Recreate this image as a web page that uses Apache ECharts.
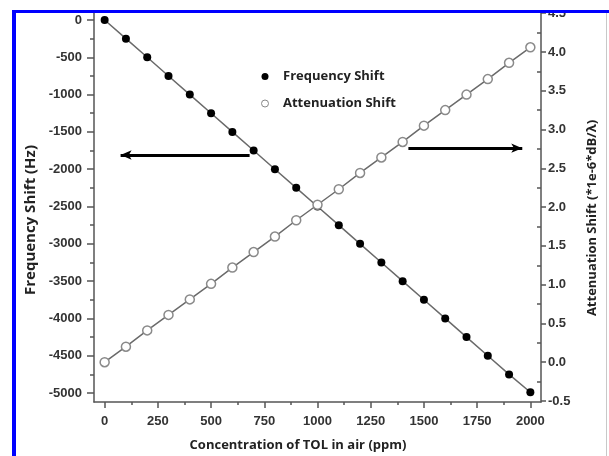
<!DOCTYPE html>
<html>
<head>
<meta charset="utf-8">
<title>TOL sensor response</title>
<script src="https://cdn.jsdelivr.net/npm/echarts@6/dist/echarts.min.js"></script>
<style>
  html, body { margin: 0; padding: 0; background: #fff; }
  #chart { width: 609px; height: 456px; }
</style>
</head>
<body>
<div id="chart"></div>
<script>
// concentration of TOL (ppm)
const concentration = [0, 100, 200, 300, 400, 500, 600, 700, 800, 900, 1000,
  1100, 1200, 1300, 1400, 1500, 1600, 1700, 1800, 1900, 2000]
// frequency shift (Hz), left axis
const frequencyShift = [0, -250, -500, -750, -1000, -1250, -1500, -1750, -2000, -2250, -2500,
  -2750, -3000, -3250, -3500, -3750, -4000, -4250, -4500, -4750, -4990]
// attenuation shift (*1e-6*dB/λ), right axis
const attenuationShift = [0, 0.2, 0.41, 0.61, 0.81, 1.01, 1.22, 1.42, 1.62, 1.83, 2.03,
  2.23, 2.44, 2.64, 2.84, 3.05, 3.25, 3.45, 3.65, 3.86, 4.06]

// tick labels
const xTicks = [0, 250, 500, 750, 1000, 1250, 1500, 1750, 2000]
const xMinorTicks = [125, 375, 625, 875, 1125, 1375, 1625, 1875]
const freqTicks = [0, -500, -1000, -1500, -2000, -2500, -3000, -3500, -4000, -4500, -5000]
const freqMinorTicks = [-250, -750, -1250, -1750, -2250, -2750, -3250, -3750, -4250, -4750]
const attTicks = [-0.5, 0, 0.5, 1, 1.5, 2, 2.5, 3, 3.5, 4, 4.5]
const attMinorTicks = [-0.25, 0.25, 0.75, 1.25, 1.75, 2.25, 2.75, 3.25, 3.75, 4.25]

// arrows pointing at their axes: [conc from, conc to, value]
const freqArrow = [681, 75, -1810]
const attArrow = [1427, 1962, 2.76]

const labelFont = 'Liberation Sans'
const nameFont = 'Open Sans'
const axisColor = '#555'

const chartDom = document.getElementById('chart')
const myChart = echarts.init(chartDom)

const tickLabel = {
  fontFamily: labelFont,
  fontWeight: 'bold',
  fontSize: 13,
  color: '#333'
}
const tickLine = { color: axisColor, width: 1.5 }

const option = {
  animation: false,
  backgroundColor: '#fff',
  grid: {
    left: 94,
    right: 68,
    top: 12,
    bottom: 54,
    outerBoundsMode: 'none'
  },
  legend: {
    orient: 'vertical',
    left: 256,
    top: 65,
    itemWidth: 26,
    itemHeight: 7,
    itemGap: 14,
    selectedMode: false,
    textStyle: {
      fontFamily: nameFont,
      fontWeight: 'bold',
      fontSize: 13,
      color: '#222'
    },
    data: [
      { name: 'Frequency Shift', icon: 'circle', itemStyle: { color: '#000' } },
      { name: 'Attenuation Shift', icon: 'circle', itemStyle: { color: '#fff', borderColor: '#888', borderWidth: 1 } }
    ]
  },
  xAxis: [
    {
      type: 'value',
      min: -50,
      max: 2050,
      name: 'Concentration of TOL in air (ppm)',
      nameLocation: 'middle',
      nameGap: 37,
      nameTextStyle: { fontFamily: nameFont, fontWeight: 'bold', fontSize: 13, color: '#222', padding: [0, 39, 0, 0] },
      splitLine: { show: false },
      axisLine: { onZero: false, lineStyle: { color: axisColor, width: 1.5 } },
      axisTick: { customValues: xTicks, length: 6, lineStyle: tickLine },
      axisLabel: { customValues: xTicks, margin: 13, ...tickLabel, formatter: (v) => String(v) }
    },
    {
      // minor ticks only
      type: 'value',
      position: 'bottom',
      min: -50,
      max: 2050,
      splitLine: { show: false },
      axisLine: { show: false, onZero: false },
      axisTick: { customValues: xMinorTicks, length: 3, lineStyle: tickLine },
      axisLabel: { show: false }
    }
  ],
  yAxis: [
    {
      type: 'value',
      position: 'left',
      min: -5120,
      max: 107,
      name: 'Frequency Shift (Hz)',
      nameLocation: 'middle',
      nameGap: 48,
      nameTextStyle: { fontFamily: nameFont, fontWeight: 'bold', fontSize: 15, color: '#222', padding: [0, 26, 0, 0] },
      splitLine: { show: false },
      axisLine: { show: true, onZero: false, lineStyle: { color: axisColor, width: 1.5 } },
      axisTick: { customValues: freqTicks, length: 7, lineStyle: tickLine },
      axisLabel: { customValues: freqTicks, margin: 12, ...tickLabel, formatter: (v) => String(v) }
    },
    {
      type: 'value',
      position: 'right',
      min: -0.513,
      max: 4.515,
      name: 'Attenuation Shift (*1e-6*dB/λ)',
      nameLocation: 'middle',
      nameGap: 45,
      nameTextStyle: { fontFamily: nameFont, fontWeight: 'bold', fontSize: 13, color: '#222', padding: [0, 22, 0, 0] },
      splitLine: { show: false },
      axisLine: { show: true, onZero: false, lineStyle: { color: axisColor, width: 1.5 } },
      axisTick: { customValues: attTicks, length: 5, lineStyle: tickLine },
      axisLabel: {
        customValues: attTicks,
        margin: 7,
        ...tickLabel,
        formatter: (v) => v.toFixed(1)
      }
    },
    {
      // left minor ticks
      type: 'value',
      position: 'left',
      min: -5120,
      max: 107,
      splitLine: { show: false },
      axisLine: { show: false, onZero: false },
      axisTick: { customValues: freqMinorTicks, length: 4, lineStyle: tickLine },
      axisLabel: { show: false }
    },
    {
      // right minor ticks, drawn inward
      type: 'value',
      position: 'right',
      min: -0.513,
      max: 4.515,
      splitLine: { show: false },
      axisLine: { show: false, onZero: false },
      axisTick: { inside: true, customValues: attMinorTicks, length: 4, lineStyle: tickLine },
      axisLabel: { show: false }
    }
  ],
  series: [
    {
      name: 'Frequency Shift',
      type: 'line',
      xAxisIndex: 0,
      yAxisIndex: 0,
      data: concentration.map((c, i) => [c, frequencyShift[i]]),
      symbol: 'circle',
      symbolSize: 8,
      itemStyle: { color: '#000' },
      lineStyle: { color: '#6a6a6a', width: 1.5 },
      markLine: {
        silent: true,
        symbol: ['none', 'arrow'],
        symbolSize: [7, 11],
        label: { show: false },
        lineStyle: { color: '#000', width: 3, type: 'solid' },
        data: [[
          { coord: [freqArrow[0], freqArrow[2]] },
          { coord: [freqArrow[1], freqArrow[2]] }
        ]]
      }
    },
    {
      name: 'Attenuation Shift',
      type: 'line',
      xAxisIndex: 0,
      yAxisIndex: 1,
      data: concentration.map((c, i) => [c, attenuationShift[i]]),
      symbol: 'circle',
      symbolSize: 9,
      itemStyle: { color: '#fff', borderColor: '#8a8a8a', borderWidth: 1.5 },
      lineStyle: { color: '#6a6a6a', width: 1.5 },
      markLine: {
        silent: true,
        symbol: ['none', 'arrow'],
        symbolSize: [7, 11],
        label: { show: false },
        lineStyle: { color: '#000', width: 3, type: 'solid' },
        data: [[
          { coord: [attArrow[0], attArrow[2]] },
          { coord: [attArrow[1], attArrow[2]] }
        ]]
      }
    }
  ],
  // picture frame: white strip, blue border top and left, faint line right
  graphic: [
    { type: 'rect', z: 100, shape: { x: 0, y: 0, width: 609, height: 10 }, style: { fill: '#fff' } },
    { type: 'rect', z: 100, shape: { x: 0, y: 0, width: 12, height: 456 }, style: { fill: '#fff' } },
    { type: 'rect', z: 101, shape: { x: 12, y: 10, width: 597, height: 3 }, style: { fill: '#0000ff' } },
    { type: 'rect', z: 101, shape: { x: 12, y: 10, width: 4, height: 446 }, style: { fill: '#0000ff' } },
    { type: 'rect', z: 101, shape: { x: 606, y: 13, width: 1, height: 443 }, style: { fill: '#c8c8c8' } }
  ]
}

option && myChart.setOption(option)
window.addEventListener('resize', function () {
  myChart.resize()
})
</script>
</body>
</html>
